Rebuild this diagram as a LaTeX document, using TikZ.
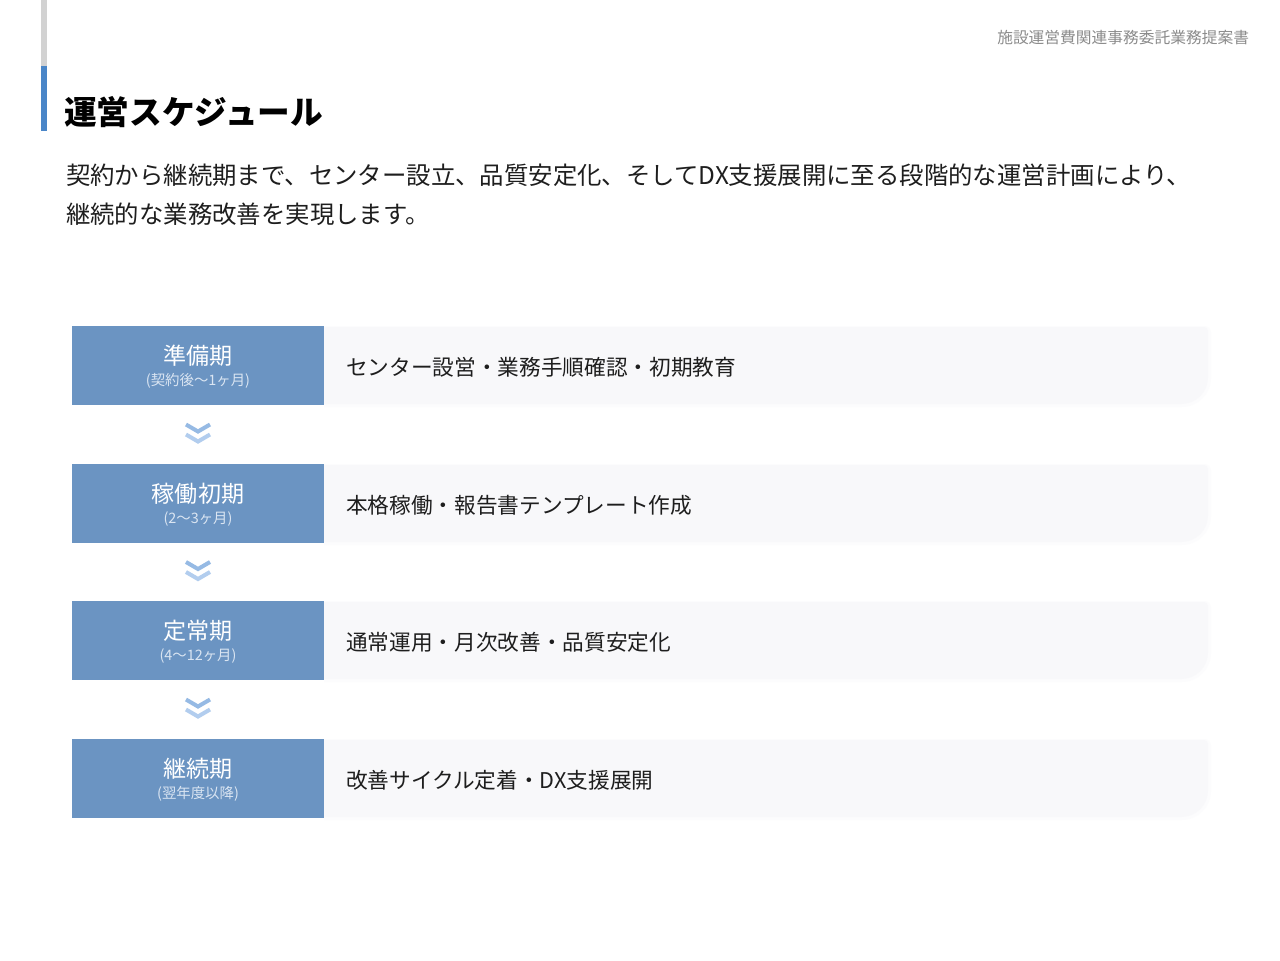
\documentclass[tikz,border=0pt]{standalone}
\usepackage{fontspec}
\setmainfont{Noto Sans CJK JP}
\usetikzlibrary{calc}
\definecolor{barGray}{RGB}{210,210,210}
\definecolor{barBlue}{RGB}{74,134,200}
\definecolor{stageFill}{RGB}{107,148,194}
\definecolor{stageSub}{RGB}{218,229,242}
\definecolor{contentFill}{RGB}{248,248,250}
\definecolor{shadowFill}{RGB}{252,252,253}
\definecolor{chevTop}{RGB}{150,186,228}
\definecolor{chevBot}{RGB}{178,205,238}
\definecolor{bodyText}{RGB}{30,30,30}
\definecolor{headGray}{RGB}{140,140,140}
\tikzset{
  txt/.style={inner sep=0pt, outer sep=0pt},
  stagebox/.style={fill=stageFill, draw=none, minimum width=189pt, minimum height=59.25pt, inner sep=0pt},
  stagetitle/.style={txt, text=white, font=\fontsize{17.3}{20}\selectfont},
  stagesub/.style={txt, text=stageSub, font=\fontsize{10.8}{12}\selectfont},
  contenttext/.style={txt, anchor=west, text=bodyText, font=\fontsize{16.25}{19}\selectfont},
  chev/.style={line width=3pt, line cap=butt, line join=miter},
}
\begin{document}
\begin{tikzpicture}[x=0.75pt,y=-0.75pt]
\useasboundingbox[fill=white] (0,0) rectangle (1280,960);
% side bar
\fill[barGray] (41,0) rectangle (47,66);
\fill[barBlue] (41,66) rectangle (47,131);
% header
\node[txt, anchor=east, text=headGray, font=\fontsize{11.8}{14}\selectfont] (doc) at (1249,38) {施設運営費関連事務委託業務提案書};
\node[txt, anchor=west, text=black, font=\fontsize{24.5}{28}\bfseries] (title) at (64,112) {運営スケジュール};
\node[txt, anchor=west, text=bodyText, font=\fontsize{18.3}{21}\selectfont] (desc1) at (66,175) {契約から継続期まで、センター設立、品質安定化、そしてDX支援展開に至る段階的な運営計画により、};
\node[txt, anchor=west, text=bodyText, font=\fontsize{18.3}{21}\selectfont] (desc2) at (66,214) {継続的な業務改善を実現します。};
% stages
\foreach \i/\t/\ttl/\sub/\cnt in {
  1/326/準備期/(契約後〜1ヶ月)/センター設営・業務手順確認・初期教育,
  2/464/稼働初期/(2〜3ヶ月)/本格稼働・報告書テンプレート作成,
  3/601/定常期/(4〜12ヶ月)/通常運用・月次改善・品質安定化,
  4/739/継続期/(翌年度以降)/改善サイクル定着・DX支援展開}{
  \pgfmathsetmacro{\b}{\t+79}
  \pgfmathsetmacro{\c}{\t+39.5}
  % content panel
  \fill[shadowFill] (324,\t) [rounded corners=5] -- (1211,\t) [rounded corners=22] -- (1211,\b+2) [sharp corners] -- (324,\b+2) -- cycle;
  \fill[contentFill] (324,\t+1) [rounded corners=3] -- (1208,\t+1) [rounded corners=20] -- (1208,\b-1) [sharp corners] -- (324,\b-1) -- cycle;
  \node[stagebox] (s\i) at (198,\c) {};
  \node[stagetitle] (s\i t) at ([yshift=7.6pt]s\i.center) {\ttl};
  \node[stagesub] (s\i s) at ([yshift=-11.3pt]s\i.center) {\sub};
  \node[contenttext] (c\i) at (346,\c+1.5) {\cnt};
}
% chevrons between stages
\foreach \a/\bb in {1/2,2/3,3/4}{
  \coordinate (m\a) at ($(s\a.south)!0.5!(s\bb.north)$);
  \draw[chev, chevTop] ([shift={(-12,-10)}]m\a) -- ([shift={(0,-3)}]m\a) -- ([shift={(12,-10)}]m\a);
  \draw[chev, chevBot] ([shift={(-12,0)}]m\a) -- ([shift={(0,7)}]m\a) -- ([shift={(12,0)}]m\a);
}
\end{tikzpicture}
\end{document}
